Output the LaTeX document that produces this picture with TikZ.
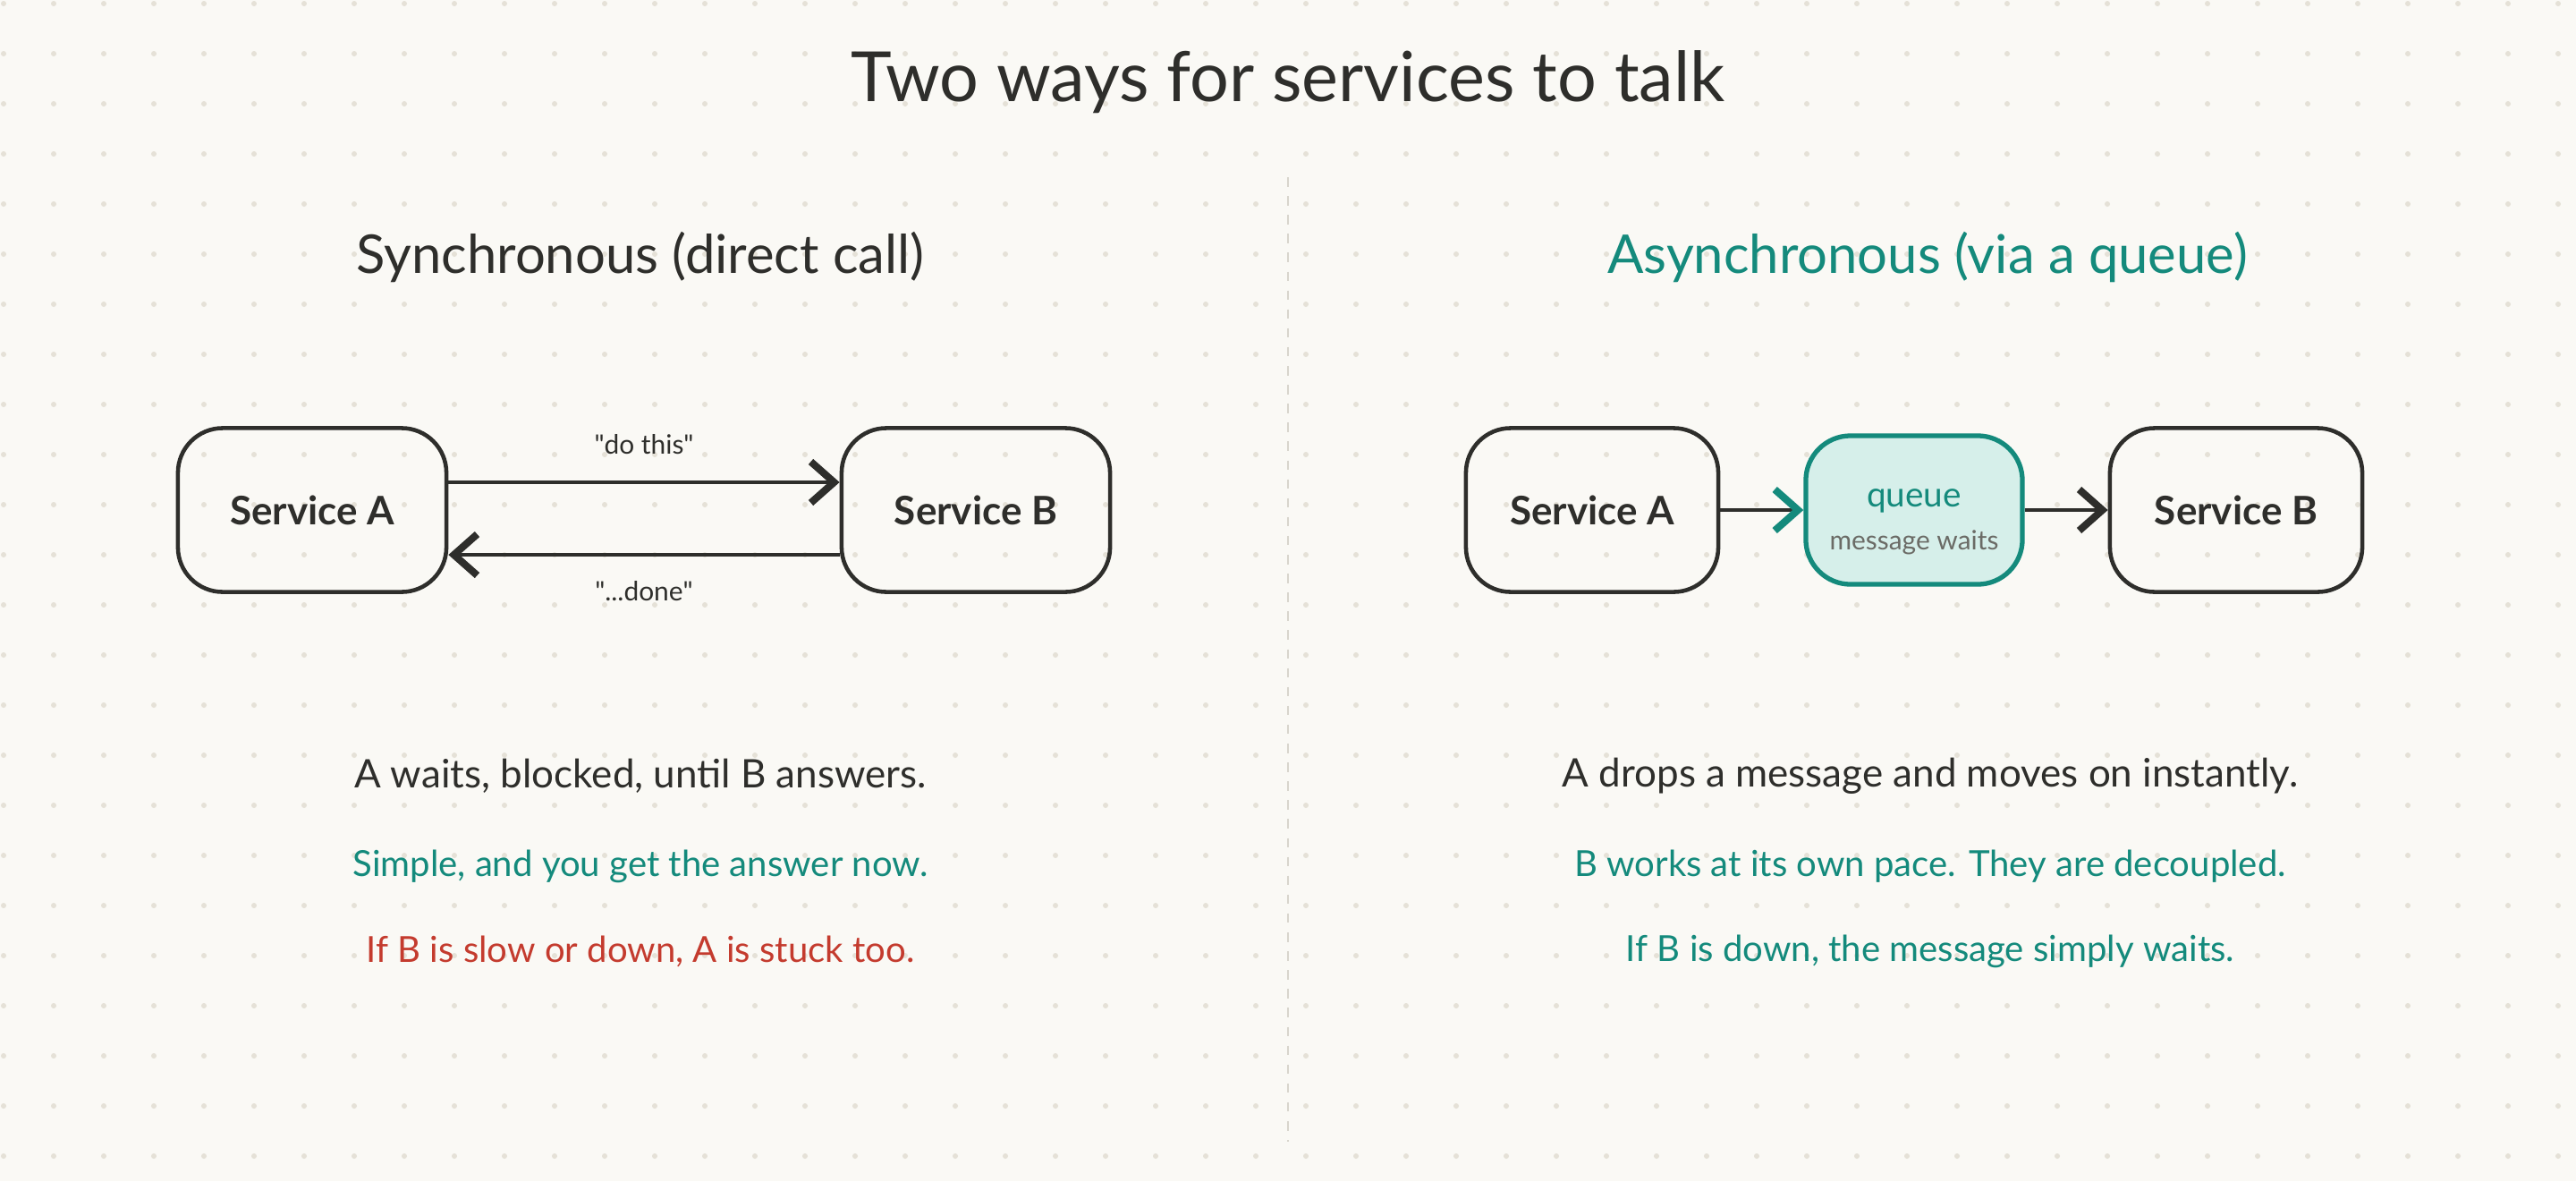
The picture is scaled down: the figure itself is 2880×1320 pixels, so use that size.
\documentclass[tikz,border=0pt]{standalone}
\usepackage{fontspec}
\setmainfont{Lato}
\usetikzlibrary{arrows.meta,positioning}
\definecolor{paper}{HTML}{FAF9F5}
\definecolor{dotgrey}{HTML}{E5E1D7}
\definecolor{ink}{HTML}{2E2E2B}
\definecolor{qteal}{HTML}{148A7C}
\definecolor{qfill}{HTML}{D6EFEA}
\definecolor{warnred}{HTML}{C43B2E}
\definecolor{mutedgrey}{HTML}{6B6B66}
\definecolor{rulegrey}{HTML}{D8D5CD}

\begin{document}
\begin{tikzpicture}[x=0.01cm, y=-0.01cm,
    service/.style={draw=ink, line width=1.3pt, rounded corners=5mm,
      minimum width=3cm, minimum height=1.83cm, font=\fontsize{12.5}{15}\selectfont\bfseries, text=ink},
    queuebox/.style={draw=qteal, fill=qfill, line width=1.5pt, rounded corners=5mm,
      minimum width=2.42cm, minimum height=1.66cm},
    conn/.style={draw=ink, line width=1.1pt, -{Straight Barb[length=2.6mm, width=4.6mm, line width=2.3pt]}},
    tealconn/.style={draw=ink, line width=1.1pt, -{Straight Barb[length=2.6mm, width=4.6mm, line width=2.3pt, color=qteal]}},
    note/.style={font=\fontsize{12.5}{15}\selectfont, text=ink},
    aside/.style={font=\fontsize{11.4}{14}\selectfont},
    msg/.style={font=\fontsize{8.5}{10}\selectfont, text=ink}]
    % Paper and dot grid
    \fill[paper] (0,0) rectangle (2880,1320);
    \foreach \gx in {4,60,...,2880}
      \foreach \gy in {4,60,...,1320}
        \fill[dotgrey] (\gx,\gy) circle (0.3mm);

    % Titles
    \node[font=\fontsize{22}{26}\selectfont, text=ink] (title) at (1440, 92) {Two ways for services to talk};
    \node[font=\fontsize{17}{20}\selectfont, text=ink] (syncTitle) at (716, 287) {Synchronous (direct call)};
    \node[font=\fontsize{17}{20}\selectfont, text=qteal] (asyncTitle) at (2155, 287) {Asynchronous (via a queue)};

    % Divider
    \draw[rulegrey, line width=0.8pt, dashed] (1440, 198) -- (1440, 1276);

    % Synchronous side
    \node[service] (syncA) at (349, 570) {Service A};
    \node[service] (syncB) at (1091, 570) {Service B};
    \draw[conn] ([yshift=3.1mm]syncA.east) -- node[msg, above=1.8mm] {\textquotedbl do this\textquotedbl} ([yshift=3.1mm]syncB.west);
    \draw[conn] ([yshift=-5mm]syncB.west) -- node[msg, below=1.6mm] {\textquotedbl...done\textquotedbl} ([yshift=-5mm]syncA.east);

    % Asynchronous side
    \node[service, minimum width=2.82cm] (asyncA) at (1780, 570) {Service A};
    \node[queuebox] (queue) at (2140, 570) {};
    \node[align=center] (queueText) at ([yshift=-1.3mm]queue.center) {{\fontsize{11}{13}\selectfont\color{qteal}queue}\\[0.6mm]{\fontsize{8.5}{10}\selectfont\color{mutedgrey}message waits}};
    \node[service, minimum width=2.82cm] (asyncB) at (2500, 570) {Service B};
    \draw[tealconn] (asyncA) -- (queue);
    \draw[conn] (queue) -- (asyncB);

    % Notes
    \node[note] (syncNote) at (716, 867) {A waits, blocked, until B answers.};
    \node[aside, text=qteal] (syncGood) at (716, 968) {Simple, and you get the answer now.};
    \node[aside, text=warnred] (syncBad) at (716, 1063) {If B is slow or down, A is stuck too.};
    \node[note] (asyncNote) at (2158, 867) {A drops a message and moves on instantly.};
    \node[aside, text=qteal] (asyncGood) at (2158, 968) {B works at its own pace. They are decoupled.};
    \node[aside, text=qteal] (asyncDown) at (2158, 1063) {If B is down, the message simply waits.};
\end{tikzpicture}
\end{document}
